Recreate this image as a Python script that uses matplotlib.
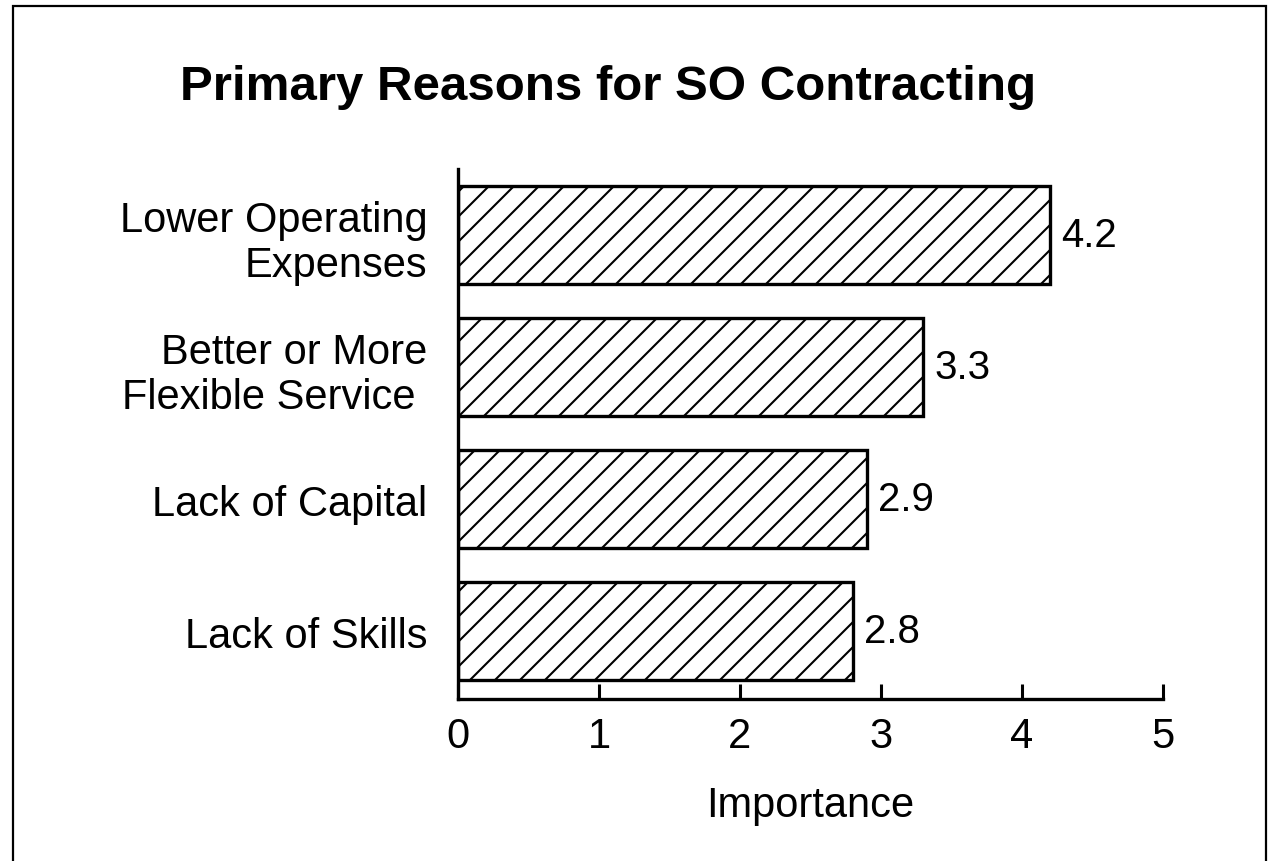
import matplotlib
matplotlib.use("Agg")
import matplotlib.pyplot as plt
from matplotlib.patches import Rectangle
from matplotlib.backend_bases import GraphicsContextBase

# ---- data ----
categories = ["Lower Operating\nExpenses", "Better or More\nFlexible Service ",
              "Lack of Capital", "Lack of Skills"]
values = [4.2, 3.3, 2.9, 2.8]
value_labels = ["4.2", "3.3", "2.9", "2.8"]
xticks = [0, 1, 2, 3, 4, 5]
title = "Primary Reasons for SO Contracting"
xlabel = "Importance"

# hatch line density closer to the original print
_orig_hatch = GraphicsContextBase.get_hatch_path
def _dense_hatch(self, density=8.0):
    return _orig_hatch(self, 8.0)
GraphicsContextBase.get_hatch_path = _dense_hatch

plt.rcParams['font.family'] = ['Liberation Sans', 'DejaVu Sans']
plt.rcParams['hatch.linewidth'] = 1.5
plt.rcParams['hatch.color'] = 'black'

fig = plt.figure(figsize=(12.75, 8.62), dpi=100)
fig.patch.set_facecolor('white')

# outer frame
fig.patches.append(Rectangle((13/1275, -0.05), (1266-13)/1275, 1.05 - 7/862,
                             transform=fig.transFigure, fill=False,
                             edgecolor='black', linewidth=1.6))

ax = fig.add_axes([458/1275, 1-700/862, (1163-458)/1275, (700-170)/862])

ypos = list(range(len(categories)))
bars = ax.barh(ypos, values, height=0.74, facecolor='white', edgecolor='black',
               linewidth=2.4, hatch='/')
ax.bar_label(bars, labels=value_labels, padding=8, fontsize=29)

ax.set_xlim(0, 5)
ax.set_ylim(3.515, -0.5)
ax.set_xticks(xticks)
ax.set_xticklabels([str(t) for t in xticks], fontsize=30)
ax.set_yticks(ypos)
ax.set_yticklabels(categories, fontsize=30, linespacing=1.18)

ax.spines['top'].set_visible(False)
ax.spines['right'].set_visible(False)
for s in ('left', 'bottom'):
    ax.spines[s].set_linewidth(2.4)
ax.tick_params(axis='x', direction='in', length=11, width=2.2, pad=12)
ax.tick_params(axis='y', length=0, pad=22)

ax.set_xlabel(xlabel, fontsize=30, labelpad=21)

fig.text(608/1275, 1-100/862, title, ha='center', va='baseline',
         fontsize=35.5, fontweight='bold')

fig.savefig("out.png", dpi=100)
